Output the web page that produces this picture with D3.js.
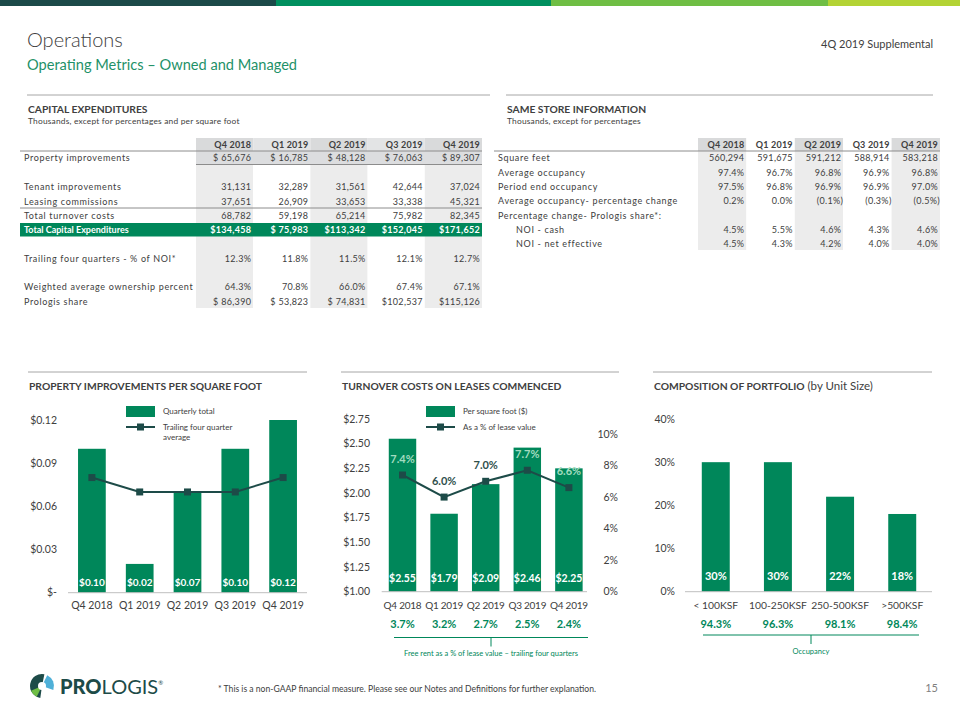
<!DOCTYPE html>
<html>
<head>
<meta charset="utf-8">
<script src="https://cdn.jsdelivr.net/npm/d3@7"></script>
<style>
  body { margin: 0; background: #fff; }
  svg { font-family: Lato, "Open Sans", sans-serif; }
</style>
</head>
<body>
<script>
// ---- data ----
var quarters = ["Q4 2018", "Q1 2019", "Q2 2019", "Q3 2019", "Q4 2019"];

// capital expenditures (thousands)
var propertyImprovements = [65676, 16785, 48128, 76063, 89307];
var tenantImprovements = [31131, 32289, 31561, 42644, 37024];
var leasingCommissions = [37651, 26909, 33653, 33338, 45321];
var totalTurnoverCosts = [68782, 59198, 65214, 75982, 82345];
var totalCapex = [134458, 75983, 113342, 152045, 171652];
var trailingNoiPct = [12.3, 11.8, 11.5, 12.1, 12.7];
var ownershipPct = [64.3, 70.8, 66.0, 67.4, 67.1];
var prologisShare = [86390, 53823, 74831, 102537, 115126];

// same store
var squareFeet = [560294, 591675, 591212, 588914, 583218];
var avgOccupancy = [97.4, 96.7, 96.8, 96.9, 96.8];
var periodEndOccupancy = [97.5, 96.8, 96.9, 96.9, 97.0];
var avgOccupancyChange = [0.2, 0.0, -0.1, -0.3, -0.5];
var noiCash = [4.5, 5.5, 4.6, 4.3, 4.6];
var noiNetEffective = [4.5, 4.3, 4.2, 4.0, 4.0];

// property improvements per square foot
var piQuarterly = [0.10, 0.02, 0.07, 0.10, 0.12];
var piTrailing = [0.08, 0.07, 0.07, 0.07, 0.08];
var piTicks = [0, 0.03, 0.06, 0.09, 0.12];

// turnover costs on leases commenced
var turnoverPerSqft = [2.55, 1.79, 2.09, 2.46, 2.25];
var turnoverPctLease = [7.4, 6.0, 7.0, 7.7, 6.6];
var freeRentPct = [3.7, 3.2, 2.7, 2.5, 2.4];
var turnoverTicks = [1.00, 1.25, 1.50, 1.75, 2.00, 2.25, 2.50, 2.75];
var leasePctTicks = [0, 2, 4, 6, 8, 10];

// composition of portfolio
var unitSizes = ["< 100KSF", "100-250KSF", "250-500KSF", ">500KSF"];
var portfolioPct = [30, 30, 22, 18];
var occupancyPct = [94.3, 96.3, 98.1, 98.4];
var portfolioTicks = [0, 10, 20, 30, 40];

// ---- styles ----
var GREEN = "#00875a", DARK = "#1d4b48", TEXT = "#404040", RULE = "#a6a6a6";

var W = 960, H = 720;
var svg = d3.select("body").append("svg")
  .attr("width", W).attr("height", H);

var f1 = d3.format(".1f"), fc = d3.format(",");
function money(v) { return "$" + (v < 100000 ? " " : "") + fc(v); }
function pct(v) { return v < 0 ? "(" + f1(-v) + "%)" : f1(v) + "%"; }
function num(v) { return fc(v); }

// ---- header ----
var topBar = [["#1b4a49", 0, 276], ["#00905f", 276, 551], ["#6fbe44", 551, 828], ["#b3d334", 828, 960]];
svg.selectAll("rect.topbar").data(topBar).enter().append("rect")
  .attr("x", d => d[1]).attr("y", 0).attr("width", d => d[2] - d[1]).attr("height", 6)
  .attr("fill", d => d[0]);

svg.append("text").attr("x", 27).attr("y", 47).text("Operations")
  .attr("font-size", 20).attr("font-weight", 300).attr("fill", TEXT);
svg.append("text").attr("x", 27).attr("y", 70).text("Operating Metrics \u2013 Owned and Managed")
  .attr("font-size", 14.6).attr("fill", "#1e9168");
svg.append("text").attr("x", 933).attr("y", 48).attr("text-anchor", "end").text("4Q 2019 Supplemental")
  .attr("font-size", 11).attr("fill", TEXT);

function sectionTitle(x1, x2, y, title, extra) {
  svg.append("line").attr("x1", x1).attr("x2", x2).attr("y1", y).attr("y2", y)
    .attr("stroke", RULE).attr("stroke-width", 1);
  var t = svg.append("text").attr("x", x1 + 1).attr("y", y + 18)
    .attr("font-size", 10.3).attr("font-weight", 700).attr("fill", TEXT).text(title);
  if (extra) t.append("tspan").attr("font-weight", 400).attr("font-size", 11.5).text(extra);
}

// ---- tables ----
function drawTable(opt) {
  var g = svg.append("g");
  var cw = opt.colW, x0 = opt.colX;
  // column shading
  quarters.forEach(function (q, i) {
    var x = x0 + i * cw;
    g.append("rect").attr("x", x).attr("y", opt.headTop).attr("width", cw)
      .attr("height", opt.headBottom - opt.headTop)
      .attr("fill", i % 2 === 0 ? "#d9dadb" : opt.headAlt);
    g.append("rect").attr("x", x).attr("y", opt.headBottom).attr("width", cw)
      .attr("height", opt.bodyBottom - opt.headBottom)
      .attr("fill", i % 2 === 0 ? "#ececec" : "#ffffff");
  });
  if (opt.extraBand) opt.extraBand(g);
  g.append("line").attr("x1", opt.left).attr("x2", x0 + 5 * cw)
    .attr("y1", opt.headBottom).attr("y2", opt.headBottom).attr("stroke", "#8c8c8c");
  // header labels
  g.selectAll("text.h").data(quarters).enter().append("text")
    .attr("x", (d, i) => x0 + (i + 1) * cw - 2).attr("y", opt.headY)
    .attr("dy", "0.35em").attr("text-anchor", "end").attr("letter-spacing", 0.2)
    .attr("font-size", 9).attr("font-weight", 700).attr("fill", TEXT).text(d => d);
  opt.rows.forEach(function (r) {
    if (r.band) {
      g.append("rect").attr("x", opt.left).attr("y", r.y - 6.5).attr("width", x0 + 5 * cw - opt.left)
        .attr("height", 13.5).attr("fill", GREEN);
    }
    var col = r.band ? "#ffffff" : TEXT, wt = r.band ? 700 : 400;
    g.append("text").attr("x", opt.left + 4 + (r.indent || 0)).attr("y", r.y).attr("dy", "0.35em")
      .attr("font-size", 9).attr("font-weight", wt).attr("letter-spacing", r.band ? 0 : 0.65)
      .attr("fill", col).text(r.label);
    if (r.values) {
      g.selectAll(null).data(r.values).enter().append("text")
        .attr("x", (d, i) => x0 + (i + 1) * cw - 2 + (d < 0 ? 2 : 0)).attr("y", r.y).attr("dy", "0.35em")
        .attr("text-anchor", "end").attr("font-size", 9).attr("font-weight", wt)
        .attr("letter-spacing", 0.3).attr("fill", col).text(d => r.fmt(d));
    }
    if (r.lineBelow) {
      g.append("line").attr("x1", r.lineBelow[0]).attr("x2", x0 + 5 * cw)
        .attr("y1", r.y + 6.5).attr("y2", r.y + 6.5).attr("stroke", "#8c8c8c");
    }
  });
}

sectionTitle(27, 490, 95, "CAPITAL EXPENDITURES");
svg.append("text").attr("x", 28).attr("y", 124).attr("font-size", 8.4).attr("letter-spacing", 0.2)
  .attr("fill", TEXT).text("Thousands, except  for percentages  and per square foot");

drawTable({
  left: 20, colX: 196, colW: 57.2, headTop: 138, headBottom: 151, headY: 145, bodyBottom: 308,
  headAlt: "#e3e4e5",
  extraBand: function (g) {
    g.append("rect").attr("x", 196).attr("y", 151).attr("width", 286).attr("height", 14).attr("fill", "#dcdddf");
  },
  rows: [
    { label: "Property improvements", values: propertyImprovements, fmt: money, y: 158, lineBelow: [196] },
    { label: "Tenant improvements", values: tenantImprovements, fmt: num, y: 187 },
    { label: "Leasing commissions", values: leasingCommissions, fmt: num, y: 201.5, lineBelow: [20] },
    { label: "Total turnover costs", values: totalTurnoverCosts, fmt: num, y: 215.5 },
    { label: "Total Capital Expenditures", values: totalCapex, fmt: money, y: 229.5, band: true },
    { label: "Trailing four quarters - % of NOI*", values: trailingNoiPct, fmt: pct, y: 259 },
    { label: "Weighted average ownership percent", values: ownershipPct, fmt: pct, y: 287 },
    { label: "Prologis share", values: prologisShare, fmt: money, y: 301.5 }
  ]
});

sectionTitle(506, 933, 95, "SAME STORE INFORMATION");
svg.append("text").attr("x", 507).attr("y", 124).attr("font-size", 8.4).attr("letter-spacing", 0.2)
  .attr("fill", TEXT).text("Thousands, except  for percentages");

drawTable({
  left: 494, colX: 698, colW: 48.4, headTop: 138, headBottom: 151, headY: 145, bodyBottom: 250,
  headAlt: "#ffffff",
  rows: [
    { label: "Square feet", values: squareFeet, fmt: num, y: 158.3 },
    { label: "Average occupancy", values: avgOccupancy, fmt: pct, y: 172.7 },
    { label: "Period end occupancy", values: periodEndOccupancy, fmt: pct, y: 186.7 },
    { label: "Average occupancy- percentage change", values: avgOccupancyChange, fmt: pct, y: 201 },
    { label: "Percentage change- Prologis share*:", y: 215.5 },
    { label: "NOI - cash", values: noiCash, fmt: pct, y: 230, indent: 18 },
    { label: "NOI - net effective", values: noiNetEffective, fmt: pct, y: 244, indent: 18 }
  ]
});

// ---- chart helpers ----
function xLabels(x, cats, y, size, spacing) {
  svg.append("g").selectAll("text").data(cats).enter().append("text")
    .attr("x", d => x(d) + x.bandwidth() / 2).attr("y", y).attr("dy", "0.35em")
    .attr("text-anchor", "middle").attr("font-size", size).attr("letter-spacing", spacing)
    .attr("fill", TEXT).text(d => d);
}
function yLabels(y, ticks, x, fmt, anchor) {
  svg.append("g").selectAll("text").data(ticks).enter().append("text")
    .attr("x", x).attr("y", d => y(d)).attr("dy", "0.35em")
    .attr("text-anchor", anchor || "end").attr("font-size", 10.5).attr("fill", TEXT).text(fmt);
}
function baseline(x1, x2, y) {
  svg.append("line").attr("x1", x1).attr("x2", x2).attr("y1", y).attr("y2", y)
    .attr("stroke", "#bfbfbf").attr("stroke-width", 1);
}
function legend(x, y, barText, lineText) {
  var g = svg.append("g").attr("font-size", 8).attr("fill", TEXT);
  g.append("rect").attr("x", x).attr("y", y).attr("width", 29).attr("height", 11).attr("fill", GREEN);
  g.append("text").attr("x", x + 37).attr("y", y + 5.5).attr("dy", "0.35em").text(barText);
  g.append("line").attr("x1", x).attr("x2", x + 29).attr("y1", y + 21).attr("y2", y + 21)
    .attr("stroke", DARK).attr("stroke-width", 2);
  g.append("rect").attr("x", x + 11).attr("y", y + 17.5).attr("width", 7).attr("height", 7).attr("fill", DARK);
  lineText.forEach(function (t, i) {
    g.append("text").attr("x", x + 37).attr("y", y + 21 + i * 10).attr("dy", "0.35em").text(t);
  });
}
function bracket(x1, x2, y, label) {
  var g = svg.append("g");
  var mid = (x1 + x2) / 2;
  g.append("line").attr("x1", x1).attr("x2", x2).attr("y1", y).attr("y2", y).attr("stroke", GREEN);
  g.append("line").attr("x1", mid).attr("x2", mid).attr("y1", y).attr("y2", y + 9).attr("stroke", GREEN);
  g.append("text").attr("x", mid).attr("y", y + 16).attr("dy", "0.35em").attr("text-anchor", "middle")
    .attr("font-size", 7.5).attr("fill", GREEN).text(label);
}

// ---- chart 1: property improvements per square foot ----
sectionTitle(28, 307, 372, "PROPERTY IMPROVEMENTS PER SQUARE FOOT");
var x1 = d3.scaleBand().domain(quarters).range([68, 307]).paddingInner(0.42).paddingOuter(0.21);
var y1 = d3.scaleLinear().domain([0, 0.12]).range([592.7, 420]);
yLabels(y1, piTicks, 57, d => d === 0 ? "$-   " : "$" + d3.format(".2f")(d));
svg.selectAll("rect.pi").data(piQuarterly).enter().append("rect")
  .attr("x", (d, i) => x1(quarters[i])).attr("width", x1.bandwidth())
  .attr("y", d => y1(d)).attr("height", d => y1(0) - y1(d)).attr("fill", GREEN);
baseline(68, 307, y1(0));
svg.append("path").datum(piTrailing)
  .attr("d", d3.line().x((d, i) => x1(quarters[i]) + x1.bandwidth() / 2).y(d => y1(d)))
  .attr("fill", "none").attr("stroke", DARK).attr("stroke-width", 2);
svg.selectAll("rect.pit").data(piTrailing).enter().append("rect")
  .attr("x", (d, i) => x1(quarters[i]) + x1.bandwidth() / 2 - 3.5).attr("y", d => y1(d) - 3.5)
  .attr("width", 7).attr("height", 7).attr("fill", DARK);
svg.selectAll("text.pil").data(piQuarterly).enter().append("text")
  .attr("x", (d, i) => x1(quarters[i]) + x1.bandwidth() / 2).attr("y", 582).attr("dy", "0.35em")
  .attr("text-anchor", "middle").attr("font-size", 10).attr("font-weight", 700).attr("fill", "#fff")
  .text(d => "$" + d3.format(".2f")(d));
xLabels(x1, quarters, 605, 10.5, 0);
legend(126, 406, "Quarterly  total", ["Trailing  four quarter", "average"]);

// ---- chart 2: turnover costs on leases commenced ----
sectionTitle(341, 619, 372, "TURNOVER COSTS ON LEASES COMMENCED");
var x2 = d3.scaleBand().domain(quarters).range([381.7, 589.7]).paddingInner(0.34).paddingOuter(0.17);
var y2 = d3.scaleLinear().domain([1, 2.75]).range([591.7, 419]);
var y2r = d3.scaleLinear().domain([0, 10]).range([591.7, 434]);
yLabels(y2, turnoverTicks, 370, d => "$" + d3.format(".2f")(d));
yLabels(y2r, leasePctTicks, 618, d => d + "%");
svg.selectAll("rect.tc").data(turnoverPerSqft).enter().append("rect")
  .attr("x", (d, i) => x2(quarters[i])).attr("width", x2.bandwidth())
  .attr("y", d => y2(d)).attr("height", d => y2(1) - y2(d)).attr("fill", GREEN);
baseline(381.7, 587, y2(1));
svg.append("path").datum(turnoverPctLease)
  .attr("d", d3.line().x((d, i) => x2(quarters[i]) + x2.bandwidth() / 2).y(d => y2r(d)))
  .attr("fill", "none").attr("stroke", DARK).attr("stroke-width", 2);
svg.selectAll("rect.tcm").data(turnoverPctLease).enter().append("rect")
  .attr("x", (d, i) => x2(quarters[i]) + x2.bandwidth() / 2 - 3.5).attr("y", d => y2r(d) - 3.5)
  .attr("width", 7).attr("height", 7).attr("fill", DARK);
svg.selectAll("text.tcp").data(turnoverPctLease).enter().append("text")
  .attr("x", (d, i) => x2(quarters[i]) + x2.bandwidth() / 2).attr("y", d => y2r(d) - 16).attr("dy", "0.35em")
  .attr("text-anchor", "middle").attr("font-size", 11).attr("font-weight", 700)
  .attr("fill", (d, i) => (y2r(d) - 16 > y2(turnoverPerSqft[i])) ? "#a3dcc0" : "#2f4f4c")
  .text(d => f1(d) + "%");
svg.selectAll("text.tcl").data(turnoverPerSqft).enter().append("text")
  .attr("x", (d, i) => x2(quarters[i]) + x2.bandwidth() / 2).attr("y", 578.5).attr("dy", "0.35em")
  .attr("text-anchor", "middle").attr("font-size", 10.5).attr("font-weight", 700).attr("fill", "#fff")
  .text(d => "$" + d3.format(".2f")(d));
xLabels(x2, quarters, 605, 10, -0.25);
svg.selectAll("text.fr").data(freeRentPct).enter().append("text")
  .attr("x", (d, i) => x2(quarters[i]) + x2.bandwidth() / 2).attr("y", 624.5).attr("dy", "0.35em")
  .attr("text-anchor", "middle").attr("font-size", 11).attr("font-weight", 700).attr("fill", GREEN)
  .text(d => f1(d) + "%");
bracket(394, 588, 637.5, "Free  rent as a % of lease  value  \u2013 trailing  four quarters");
legend(426, 406, "Per square foot ($)", ["As a % of lease value"]);

// ---- chart 3: composition of portfolio ----
sectionTitle(653, 932, 372, "COMPOSITION  OF PORTFOLIO", " (by Unit Size)");
var x3 = d3.scaleBand().domain(unitSizes).range([685, 933]).paddingInner(0.55).paddingOuter(0.27);
var y3 = d3.scaleLinear().domain([0, 40]).range([591.7, 419]);
yLabels(y3, portfolioTicks, 675, d => d + "%");
svg.selectAll("rect.pf").data(portfolioPct).enter().append("rect")
  .attr("x", (d, i) => x3(unitSizes[i])).attr("width", x3.bandwidth())
  .attr("y", d => y3(d)).attr("height", d => y3(0) - y3(d)).attr("fill", GREEN);
baseline(685, 932, y3(0));
svg.selectAll("text.pfl").data(portfolioPct).enter().append("text")
  .attr("x", (d, i) => x3(unitSizes[i]) + x3.bandwidth() / 2).attr("y", 576).attr("dy", "0.35em")
  .attr("text-anchor", "middle").attr("font-size", 11).attr("font-weight", 700).attr("fill", "#fff")
  .text(d => d + "%");
xLabels(x3, unitSizes, 605, 10.3, 0);
svg.selectAll("text.occ").data(occupancyPct).enter().append("text")
  .attr("x", (d, i) => x3(unitSizes[i]) + x3.bandwidth() / 2).attr("y", 624.5).attr("dy", "0.35em")
  .attr("text-anchor", "middle").attr("font-size", 11).attr("font-weight", 700).attr("fill", GREEN)
  .text(d => f1(d) + "%");
bracket(703, 919, 635, "Occupancy");

// ---- footer ----
var logo = svg.append("g").attr("transform", "translate(42,686)");
var arc = d3.arc().innerRadius(0).outerRadius(12);
[["#1d4b48", -3.0, 0.2], ["#4fb0d8", 0.45, 1.9], ["#6fbe44", 3.6, 4.3]].forEach(function (s) {
  logo.append("path").attr("d", arc({ startAngle: s[1], endAngle: s[2] })).attr("fill", s[0]);
});
logo.append("circle").attr("r", 4).attr("fill", "#fff");
var lt = svg.append("text").attr("x", 60).attr("y", 694).attr("font-size", 20).attr("fill", DARK);
lt.append("tspan").attr("font-weight", 900).text("PRO");
lt.append("tspan").attr("font-weight", 400).text("LOGIS");
lt.append("tspan").attr("font-size", 6).attr("dy", -9).text("\u00AE");

svg.append("text").attr("x", 218).attr("y", 692).attr("font-size", 8.6).attr("fill", TEXT)
  .text("* This is a non-GAAP financial measure.  Please see our Notes and Definitions for further explanation.");
svg.append("text").attr("x", 938).attr("y", 692).attr("text-anchor", "end").attr("font-size", 11)
  .attr("fill", "#7f7f7f").text("15");
</script>
</body>
</html>
